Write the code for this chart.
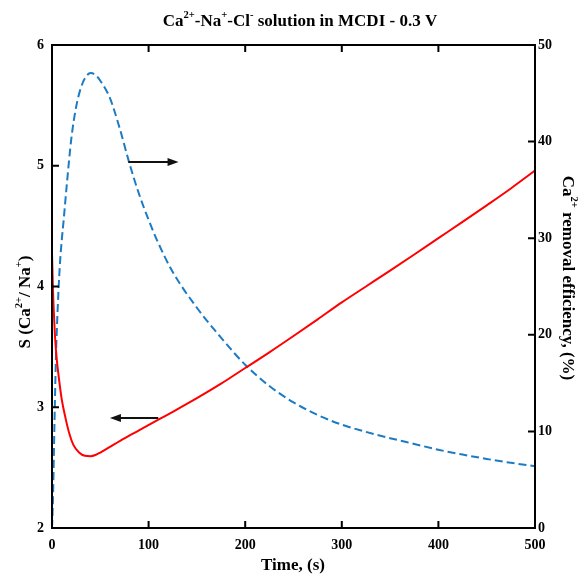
<!DOCTYPE html>
<html>
<head>
<meta charset="utf-8">
<script src="https://cdn.jsdelivr.net/npm/chart.js@4.4.1/dist/chart.umd.min.js"></script>
<style>
  html, body { margin: 0; padding: 0; background: #fff; }
  #wrap { width: 579px; height: 576px; }
</style>
</head>
<body>
<div id="wrap"><canvas id="myChart" width="579" height="576"></canvas></div>
<script>
// S (Ca2+/Na+) curve, left axis
const timeS = [0, 1, 2, 3, 5, 7, 10, 14, 18, 22, 28, 34, 40, 45, 50, 60, 75, 90, 112, 125, 150, 175, 200, 225, 250, 275, 300, 325, 350, 375, 400, 425, 450, 475, 500];
const sRatio = [4.28, 3.97, 3.77, 3.6, 3.39, 3.25, 3.07, 2.91, 2.78, 2.69, 2.625, 2.598, 2.595, 2.605, 2.625, 2.672, 2.742, 2.808, 2.905, 2.962, 3.075, 3.195, 3.325, 3.455, 3.59, 3.728, 3.868, 4.0, 4.132, 4.265, 4.4, 4.535, 4.672, 4.812, 4.96];

// Ca2+ removal efficiency (%), right axis
const timeE = [0, 1, 2, 3, 4, 5, 6, 8, 10, 12, 15, 20, 25, 30, 35, 40, 45, 50, 60, 70, 80, 90, 100, 110, 125, 150, 175, 200, 225, 250, 275, 300, 325, 350, 375, 400, 425, 450, 475, 500];
const caRemoval = [0, 3, 8, 13, 17.5, 20.5, 23, 27, 29.7, 31.8, 35.2, 40.3, 43.6, 45.6, 46.7, 47.1, 46.9, 46.3, 44.5, 41.4, 37.8, 34.6, 31.9, 29.5, 26.5, 22.8, 19.7, 16.9, 14.7, 13.0, 11.7, 10.7, 9.95, 9.3, 8.7, 8.1, 7.6, 7.15, 6.75, 6.4];

// arrows: [xFrom, xTo, y, axis]
const arrows = [
    [79, 131, 37.9, "yR"],
    [110, 60, 2.91, "yL"],
];

const FONT = "'Liberation Serif', 'Times New Roman', serif";

// text pieces, sup = superscript
const titleParts = [["Ca"], ["2+", 1], ["-Na"], ["+", 1], ["-Cl"], ["-", 1], [" solution in MCDI - 0.3 V"]];
const leftParts = [["S (Ca"], ["2+", 1], ["/ Na"], ["+", 1], [")"]];
const rightParts = [["Ca"], ["2+", 1], [" removal efficiency, (%)"]];
const bottomParts = [["Time, (s)"]];

function drawRich(ctx, parts, x, y, size, rot) {
    ctx.save();
    ctx.translate(x, y);
    ctx.rotate(rot);
    ctx.fillStyle = "#000";
    ctx.textBaseline = "middle";
    ctx.textAlign = "left";
    let total = 0;
    parts.forEach((p) => {
        ctx.font = "bold " + (p[1] ? size * 0.62 : size) + "px " + FONT;
        total += ctx.measureText(p[0]).width;
    });
    let cx = -total / 2;
    parts.forEach((p) => {
        const s = p[1] ? size * 0.62 : size;
        ctx.font = "bold " + s + "px " + FONT;
        ctx.fillText(p[0], cx, p[1] ? -size * 0.38 : 0);
        cx += ctx.measureText(p[0]).width;
    });
    ctx.restore();
}

const framePlugin = {
    id: "frame",
    afterDatasetsDraw(chart) {
        const ctx = chart.ctx;
        const a = chart.chartArea;
        const sx = chart.scales.x, yl = chart.scales.yL, yr = chart.scales.yR;
        ctx.save();
        ctx.strokeStyle = "#000";
        ctx.lineWidth = 2;
        ctx.strokeRect(a.left, a.top, a.right - a.left, a.bottom - a.top);
        const len = 7;
        ctx.beginPath();
        sx.ticks.forEach((t) => {
            const px = sx.getPixelForValue(t.value);
            ctx.moveTo(px, a.bottom); ctx.lineTo(px, a.bottom - len);
            ctx.moveTo(px, a.top); ctx.lineTo(px, a.top + len);
        });
        yl.ticks.forEach((t) => {
            const py = yl.getPixelForValue(t.value);
            ctx.moveTo(a.left, py); ctx.lineTo(a.left + len, py);
        });
        yr.ticks.forEach((t) => {
            const py = yr.getPixelForValue(t.value);
            ctx.moveTo(a.right, py); ctx.lineTo(a.right - len, py);
        });
        ctx.stroke();

        // arrows
        ctx.fillStyle = "#111";
        ctx.strokeStyle = "#111";
        arrows.forEach((ar) => {
            const x1 = sx.getPixelForValue(ar[0]);
            const x2 = sx.getPixelForValue(ar[1]);
            const py = chart.scales[ar[3]].getPixelForValue(ar[2]);
            const dir = x2 > x1 ? 1 : -1;
            ctx.beginPath();
            ctx.moveTo(x1, py);
            ctx.lineTo(x2 - dir * 8, py);
            ctx.stroke();
            ctx.beginPath();
            ctx.moveTo(x2, py);
            ctx.lineTo(x2 - dir * 11, py - 4);
            ctx.lineTo(x2 - dir * 11, py + 4);
            ctx.closePath();
            ctx.fill();
        });

        // titles
        drawRich(ctx, titleParts, 300, 22, 17, 0);
        drawRich(ctx, leftParts, 26, 302, 17, -Math.PI / 2);
        drawRich(ctx, rightParts, 567, 278, 17, Math.PI / 2);
        drawRich(ctx, bottomParts, 293, 566, 17, 0);
        ctx.restore();
    },
};

const tickFont = { family: FONT, size: 14, weight: "bold" };

const ctx = document.getElementById("myChart").getContext("2d");
const chart = new window.Chart(ctx, {
    type: "line",
    data: {
        datasets: [
            {
                label: "S",
                data: timeS.map((t, i) => ({ x: t, y: sRatio[i] })),
                yAxisID: "yL",
                borderColor: "#ff0000",
                borderWidth: 2,
                pointRadius: 0,
                fill: false,
                cubicInterpolationMode: "monotone",
            },
            {
                label: "Ca removal",
                data: timeE.map((t, i) => ({ x: t, y: caRemoval[i] })),
                yAxisID: "yR",
                borderColor: "#1b7bc4",
                borderWidth: 2,
                borderDash: [8, 4],
                pointRadius: 0,
                fill: false,
                cubicInterpolationMode: "monotone",
            },
        ],
    },
    options: {
        responsive: false,
        animation: false,
        layout: { padding: { top: 45, left: 0, right: 0, bottom: 0 } },
        plugins: {
            legend: { display: false },
            tooltip: { enabled: false },
        },
        scales: {
            x: {
                type: "linear",
                min: 0,
                max: 500,
                ticks: { stepSize: 100, color: "#000", font: tickFont, padding: 9, maxRotation: 0 },
                grid: { drawOnChartArea: false, drawTicks: false },
                border: { color: "#000", width: 2 },
                afterFit(s) { s.height = 48; },
            },
            yL: {
                position: "left",
                min: 2,
                max: 6,
                ticks: { stepSize: 1, color: "#000", font: tickFont, padding: 8 },
                grid: { drawOnChartArea: false, drawTicks: false },
                border: { color: "#000", width: 2 },
                afterFit(s) { s.width = 52; },
            },
            yR: {
                position: "right",
                min: 0,
                max: 50,
                ticks: { stepSize: 10, color: "#000", font: tickFont, padding: 3 },
                grid: { drawOnChartArea: false, drawTicks: false },
                border: { color: "#000", width: 2 },
                afterFit(s) { s.width = 44; },
            },
        },
    },
    plugins: [framePlugin],
});
</script>
</body>
</html>
